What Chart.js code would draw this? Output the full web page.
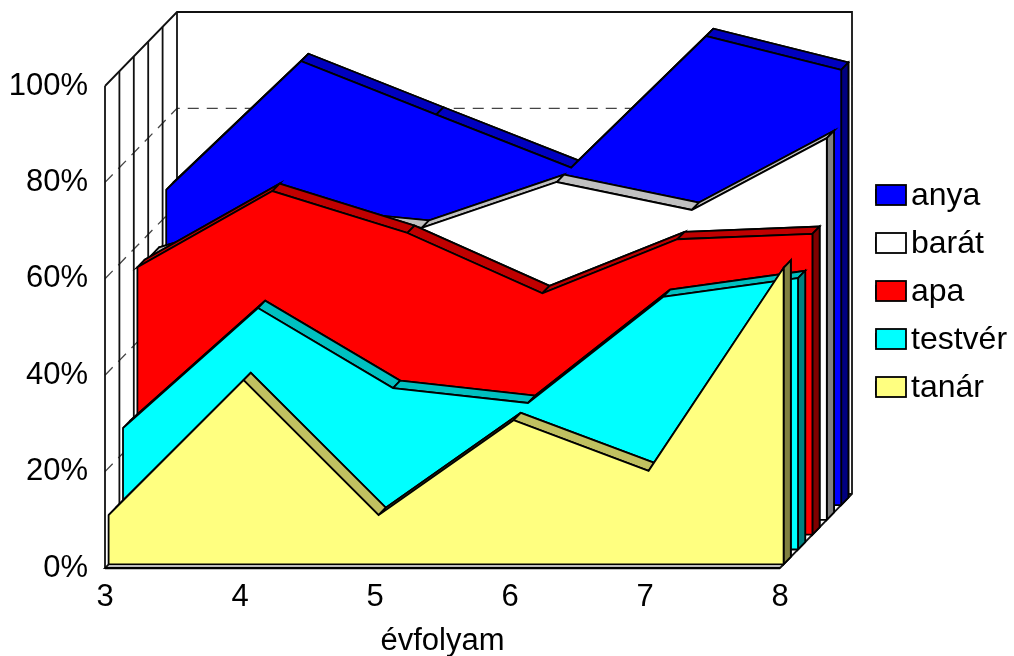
<!DOCTYPE html>
<html>
<head>
<meta charset="utf-8">
<style>html,body{margin:0;padding:0;background:#fff}canvas{display:block}</style>
<script src="https://cdn.jsdelivr.net/npm/chart.js@4"></script>
</head>
<body>
<canvas id="c" width="1014" height="656"></canvas>
<script>
const categories = [3, 4, 5, 6, 7, 8];
const seriesNames = ['anya', 'barát', 'apa', 'testvér', 'tanár'];
const anya    = [65.4, 92.1, 81.0, 70.0, 97.3, 90.3];
const barat   = [55.0, 63.3, 60.6, 70.1, 64.3, 79.2];
const apa     = [55.5, 71.3, 62.6, 50.1, 61.3, 62.4];
const testver = [25.2, 50.1, 33.5, 30.4, 52.4, 56.3];
const tanar   = [10.2, 38.2, 10.2, 29.9, 19.4, 61.5];
const seriesValues = [anya, barat, apa, testver, tanar];
const faceColors = ['#0000FF', '#FFFFFF', '#FF0000', '#00FFFF', '#FFFF80'];
const topColors  = ['#0000C0', '#C0C0C0', '#C00000', '#00C0C0', '#C0C060'];
const sideColors = ['#000080', '#808080', '#800000', '#008080', '#808040'];
const xTicks = categories;
const yTicks = [0, 20, 40, 60, 80, 100];

const PX = 135, PY = 4.82, DX = 72, DY = 74;
const X_MAX = 8.5407, Y_MAX = 115.353;
const LINE = '#000', LW = 1.8;
const TICK_FONT = {family: 'Liberation Sans', size: 31};

const scales = {
  x: {
    type: 'linear', min: 3, max: X_MAX,
    grid: {display: false},
    border: {display: false},
    ticks: {stepSize: 1, color: '#000', padding: 3, maxRotation: 0, font: TICK_FONT},
    afterBuildTicks(s) { s.ticks = xTicks.map(v => ({value: v})); },
    title: {display: true, text: 'évfolyam', color: '#000', font: TICK_FONT, padding: 0},
    afterFit(s) { s.height = 88; s.paddingLeft = 0; s.paddingRight = 0; }
  },
  y: {
    type: 'linear', min: 0, max: Y_MAX,
    grid: {display: false},
    border: {display: false},
    ticks: {stepSize: 20, color: '#000', padding: 9, font: TICK_FONT,
      callback: v => v + '%'},
    afterBuildTicks(s) { s.ticks = yTicks.map(v => ({value: v})); },
    afterFit(s) { s.width = 105; s.paddingTop = 0; s.paddingBottom = 0; }
  }
};

function depthScales(id, t) {
  const dx = DX * t / PX, dy = DY * t / PY;
  scales['x' + id] = {type: 'linear', display: false, min: 3 - dx, max: X_MAX - dx};
  scales['y' + id] = {type: 'linear', display: false, min: -dy, max: Y_MAX - dy};
}

const toPoints = vals => [{x: categories[0], y: 0}]
  .concat(vals.map((v, i) => ({x: categories[i], y: v})))
  .concat([{x: categories[categories.length - 1], y: 0}]);

const fronts = [], shells = [];
seriesNames.forEach((name, i) => {
  const slot = seriesNames.length - 1 - i;
  const tf = (slot + 0.25) / 5, tb = (slot + 0.75) / 5;
  depthScales('f' + i, tf);
  depthScales('b' + i, tb);
  const common = {type: 'line', pointRadius: 0, tension: 0, clip: false, fill: 'origin',
    borderColor: LINE, borderWidth: LW, borderJoinStyle: 'miter'};
  fronts.push(Object.assign({}, common, {
    label: name, data: toPoints(seriesValues[i]), backgroundColor: faceColors[i],
    xAxisID: 'xf' + i, yAxisID: 'yf' + i, order: slot * 2, role: 'front', series: i}));
  shells.push(Object.assign({}, common, {
    label: name + ' (mélység)', data: toPoints(seriesValues[i]), backgroundColor: topColors[i],
    xAxisID: 'xb' + i, yAxisID: 'yb' + i, order: slot * 2 + 1, role: 'shell', series: i}));
});

function poly(ctx, pts, fill) {
  ctx.beginPath();
  pts.forEach((p, i) => i ? ctx.lineTo(p[0], p[1]) : ctx.moveTo(p[0], p[1]));
  ctx.closePath();
  if (fill) { ctx.fillStyle = fill; ctx.fill(); }
  ctx.lineJoin = 'miter';
  ctx.strokeStyle = LINE;
  ctx.lineWidth = LW;
  ctx.stroke();
}

const depthPlugin = {
  id: 'depth',
  beforeDatasetsDraw(chart) {
    const {ctx} = chart, X = chart.scales.x, Y = chart.scales.y;
    const x0 = X.getPixelForValue(3), x1 = X.getPixelForValue(8);
    const y0 = Y.getPixelForValue(0), y1 = Y.getPixelForValue(100);
    ctx.save();
    // rácsvonalak
    ctx.strokeStyle = '#444';
    ctx.lineWidth = 1.3;
    ctx.setLineDash([11, 8]);
    yTicks.slice(1, -1).forEach(v => {
      const y = Y.getPixelForValue(v);
      ctx.beginPath();
      ctx.moveTo(x0, y);
      ctx.lineTo(x0 + DX, y - DY);
      ctx.lineTo(x1 + DX, y - DY);
      ctx.stroke();
    });
    ctx.setLineDash([]);
    ctx.strokeStyle = '#111';
    ctx.lineWidth = LW;
    for (let k = 0; k <= 5; k++) {
      const t = k / 5;
      ctx.beginPath();
      ctx.moveTo(x0 + DX * t, y1 - DY * t);
      ctx.lineTo(x0 + DX * t, y0 - DY * t);
      ctx.stroke();
    }
    ctx.beginPath();
    ctx.moveTo(x0, y1);
    ctx.lineTo(x0 + DX, y1 - DY);
    ctx.lineTo(x1 + DX, y1 - DY);
    ctx.lineTo(x1 + DX, y0 - DY);
    ctx.lineTo(x1, y0);
    ctx.lineTo(x0, y0);
    ctx.lineTo(x0 + DX, y0 - DY);
    ctx.lineTo(x1 + DX, y0 - DY);
    ctx.stroke();
    ctx.beginPath();
    ctx.lineWidth = 2.5;
    ctx.strokeStyle = '#000';
    ctx.moveTo(x0, y0);
    ctx.lineTo(x1, y0);
    ctx.stroke();
    ctx.restore();
  },
  afterDatasetDraw(chart, args) {
    const ds = chart.data.datasets[args.index];
    const {ctx} = chart, i = ds.series;
    const fx = chart.scales['xf' + i], fy = chart.scales['yf' + i];
    const bx = chart.scales['xb' + i], by = chart.scales['yb' + i];
    ctx.save();
    if (ds.role === 'shell') {
      const vals = seriesValues[i];
      for (let k = 0; k < vals.length - 1; k++) {
        const a = categories[k], b = categories[k + 1];
        poly(ctx, [
          [fx.getPixelForValue(a), fy.getPixelForValue(vals[k])],
          [bx.getPixelForValue(a), by.getPixelForValue(vals[k])],
          [bx.getPixelForValue(b), by.getPixelForValue(vals[k + 1])],
          [fx.getPixelForValue(b), fy.getPixelForValue(vals[k + 1])]
        ], topColors[i]);
      }
      const c = categories[categories.length - 1], v = vals[vals.length - 1];
      poly(ctx, [
        [fx.getPixelForValue(c), fy.getPixelForValue(0)],
        [fx.getPixelForValue(c), fy.getPixelForValue(v)],
        [bx.getPixelForValue(c), by.getPixelForValue(v)],
        [bx.getPixelForValue(c), by.getPixelForValue(0)]
      ], sideColors[i]);
    } else {
      ctx.beginPath();
      ctx.moveTo(fx.getPixelForValue(categories[0]), fy.getPixelForValue(0));
      ctx.lineTo(fx.getPixelForValue(categories[categories.length - 1]), fy.getPixelForValue(0));
      ctx.strokeStyle = LINE;
      ctx.lineWidth = LW;
      ctx.stroke();
    }
    ctx.restore();
  },
  afterLayout(chart) {
    const L = chart.legend;
    L.left = 860; L.right = 1014; L.top = 164; L.bottom = 424;
    // the axis title is centred under the front plane (3..8), not the depth overhang
    const X = chart.scales.x;
    X.right = X.getPixelForValue(8);
    X.bottom += 4;
  },
  afterDraw(chart) {
    const {ctx, legend: L} = chart, pad = L.options.labels.padding;
    ctx.save();
    L.legendItems.forEach((it, k) => {
      const y = L.top + pad + k * 48 + 5;
      ctx.fillStyle = it.fillStyle;
      ctx.strokeStyle = '#000';
      ctx.lineWidth = LW;
      ctx.fillRect(L.left + pad, y, 30, 20);
      ctx.strokeRect(L.left + pad, y, 30, 20);
    });
    ctx.restore();
  }
};

new Chart(document.getElementById('c'), {
  type: 'line',
  data: {datasets: fronts.concat(shells)},
  options: {
    responsive: false,
    animation: false,
    layout: {padding: {top: 12, right: 161, left: 0, bottom: 0}},
    scales,
    plugins: {
      tooltip: {enabled: false},
      title: {display: false},
      legend: {
        display: true, position: 'chartArea', align: 'start',
        labels: {
          boxWidth: 19, boxHeight: 12, padding: 16, color: '#000',
          font: {family: 'Liberation Sans', size: 32},
          filter: it => it.datasetIndex < seriesNames.length,
          sort: (a, b) => a.datasetIndex - b.datasetIndex
        }
      }
    }
  },
  plugins: [depthPlugin]
});
</script>
</body>
</html>
